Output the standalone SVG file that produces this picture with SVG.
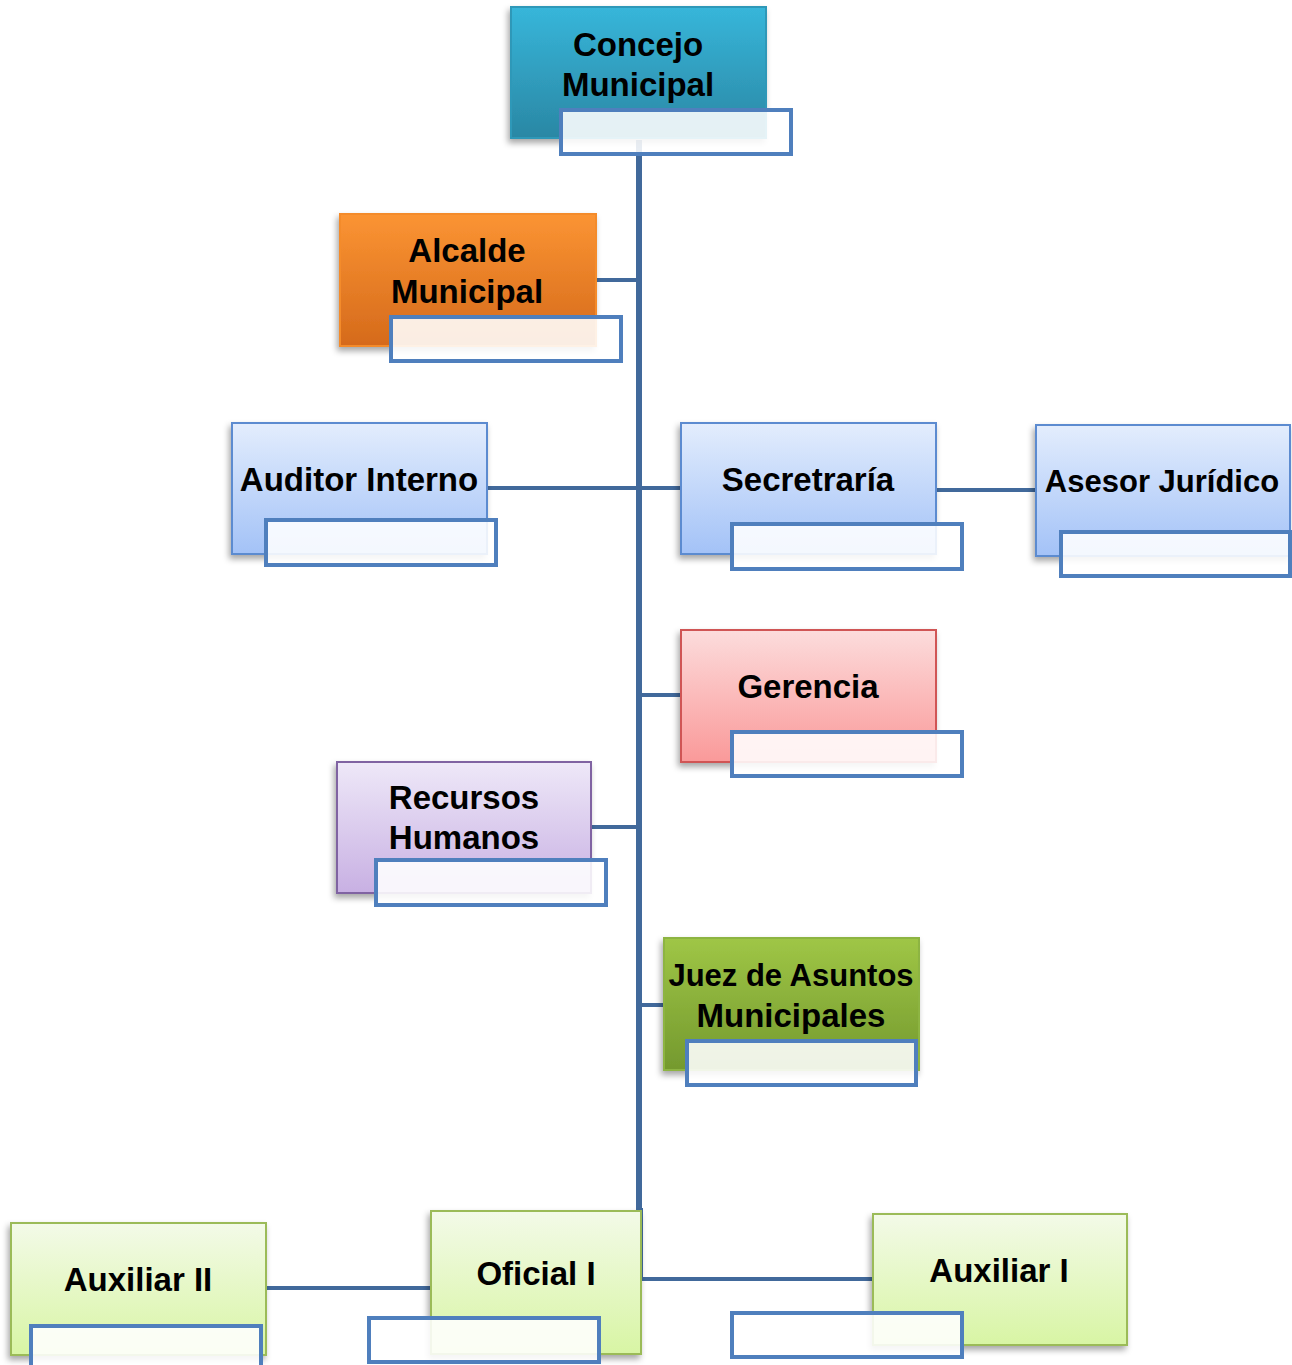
<svg xmlns="http://www.w3.org/2000/svg" width="1292" height="1365" viewBox="0 0 1292 1365">
<defs>
<linearGradient id="gTeal" x1="0" y1="0" x2="0" y2="1"><stop offset="0" stop-color="#37b6da"/><stop offset="1" stop-color="#2a87a4"/></linearGradient>
<linearGradient id="gOrange" x1="0" y1="0" x2="0" y2="1"><stop offset="0" stop-color="#fb9433"/><stop offset="1" stop-color="#d56a1b"/></linearGradient>
<linearGradient id="gBlue" x1="0" y1="0" x2="0" y2="1"><stop offset="0" stop-color="#e3edfd"/><stop offset="1" stop-color="#a3c2f7"/></linearGradient>
<linearGradient id="gPink" x1="0" y1="0" x2="0" y2="1"><stop offset="0" stop-color="#fcdcdc"/><stop offset="1" stop-color="#fa9999"/></linearGradient>
<linearGradient id="gPurple" x1="0" y1="0" x2="0" y2="1"><stop offset="0" stop-color="#eee8f8"/><stop offset="1" stop-color="#c8b0e3"/></linearGradient>
<linearGradient id="gGreen" x1="0" y1="0" x2="0" y2="1"><stop offset="0" stop-color="#9fc646"/><stop offset="1" stop-color="#74992e"/></linearGradient>
<linearGradient id="gLime" x1="0" y1="0" x2="0" y2="1"><stop offset="0" stop-color="#f3fae8"/><stop offset="1" stop-color="#d8f5a4"/></linearGradient>
<filter id="sh" x="-10%" y="-10%" width="120%" height="125%"><feDropShadow dx="-2" dy="4" stdDeviation="3" flood-color="#000" flood-opacity="0.35"/></filter>
</defs>
<style>
.box{stroke-width:2;filter:url(#sh)}
.sub{fill:#ffffff;fill-opacity:0.88;stroke:#4f7fbd;stroke-width:4}
.lbl{font-family:"Liberation Sans",Arial,sans-serif;font-weight:bold;font-size:33px;fill:#000;text-anchor:middle}
.sm{font-size:31px}
.con{stroke:#41699b;stroke-width:4;fill:none}
.trunk{stroke:#41699b;stroke-width:6;fill:none}
</style>
<g id="connectors">
<line class="trunk" x1="639" y1="140" x2="639" y2="1210"/>
<line class="con" x1="641" y1="1208" x2="641" y2="1280"/>
<line class="con" x1="596" y1="280" x2="639" y2="280"/>
<line class="con" x1="487" y1="488" x2="681" y2="488"/>
<line class="con" x1="936" y1="490" x2="1036" y2="490"/>
<line class="con" x1="639" y1="695" x2="681" y2="695"/>
<line class="con" x1="591" y1="827" x2="639" y2="827"/>
<line class="con" x1="639" y1="1005" x2="664" y2="1005"/>
<line class="con" x1="641" y1="1279" x2="873" y2="1279"/>
<line class="con" x1="266" y1="1288" x2="431" y2="1288"/>
</g>
<g id="concejo">
<rect class="box" x="511" y="7" width="255" height="131" fill="url(#gTeal)" stroke="#2e98b8"/>
<text class="lbl" x="638" y="56">Concejo</text>
<text class="lbl" x="638" y="96">Municipal</text>
<rect class="sub" x="561" y="110" width="230" height="44"/>
</g>
<g id="alcalde">
<rect class="box" x="340" y="214" width="256" height="132" fill="url(#gOrange)" stroke="#f48b2c"/>
<text class="lbl" x="467" y="262">Alcalde</text>
<text class="lbl" x="467" y="303">Municipal</text>
<rect class="sub" x="391" y="317" width="230" height="44"/>
</g>
<g id="auditor">
<rect class="box" x="232" y="423" width="255" height="131" fill="url(#gBlue)" stroke="#5b8bd0"/>
<text class="lbl" x="359" y="491">Auditor Interno</text>
<rect class="sub" x="266" y="520" width="230" height="45"/>
</g>
<g id="secretaria">
<rect class="box" x="681" y="423" width="255" height="131" fill="url(#gBlue)" stroke="#5b8bd0"/>
<text class="lbl" x="808" y="491">Secretraría</text>
<rect class="sub" x="732" y="524" width="230" height="45"/>
</g>
<g id="asesor">
<rect class="box" x="1036" y="425" width="254" height="131" fill="url(#gBlue)" stroke="#5b8bd0"/>
<text class="lbl sm" x="1162" y="492">Asesor Jurídico</text>
<rect class="sub" x="1061" y="532" width="229" height="44"/>
</g>
<g id="gerencia">
<rect class="box" x="681" y="630" width="255" height="132" fill="url(#gPink)" stroke="#d05555"/>
<text class="lbl" x="808" y="698">Gerencia</text>
<rect class="sub" x="732" y="732" width="230" height="44"/>
</g>
<g id="recursos">
<rect class="box" x="337" y="762" width="254" height="131" fill="url(#gPurple)" stroke="#8064a2"/>
<text class="lbl" x="464" y="809">Recursos</text>
<text class="lbl" x="464" y="849">Humanos</text>
<rect class="sub" x="376" y="860" width="230" height="45"/>
</g>
<g id="juez">
<rect class="box" x="664" y="938" width="255" height="132" fill="url(#gGreen)" stroke="#8db443"/>
<text class="lbl sm" x="791" y="986">Juez de Asuntos</text>
<text class="lbl" x="791" y="1027">Municipales</text>
<rect class="sub" x="687" y="1041" width="229" height="44"/>
</g>
<g id="oficial">
<rect class="box" x="431" y="1211" width="210" height="143" fill="url(#gLime)" stroke="#9bbb59"/>
<text class="lbl" x="536" y="1285">Oficial I</text>
<rect class="sub" x="369" y="1318" width="230" height="44"/>
</g>
<g id="auxiliar2">
<rect class="box" x="11" y="1223" width="255" height="132" fill="url(#gLime)" stroke="#9bbb59"/>
<text class="lbl" x="138" y="1291">Auxiliar II</text>
<rect class="sub" x="31" y="1326" width="230" height="44"/>
</g>
<g id="auxiliar1">
<rect class="box" x="873" y="1214" width="254" height="131" fill="url(#gLime)" stroke="#9bbb59"/>
<text class="lbl" x="999" y="1282">Auxiliar I</text>
<rect class="sub" x="732" y="1313" width="230" height="44"/>
</g>
</svg>
